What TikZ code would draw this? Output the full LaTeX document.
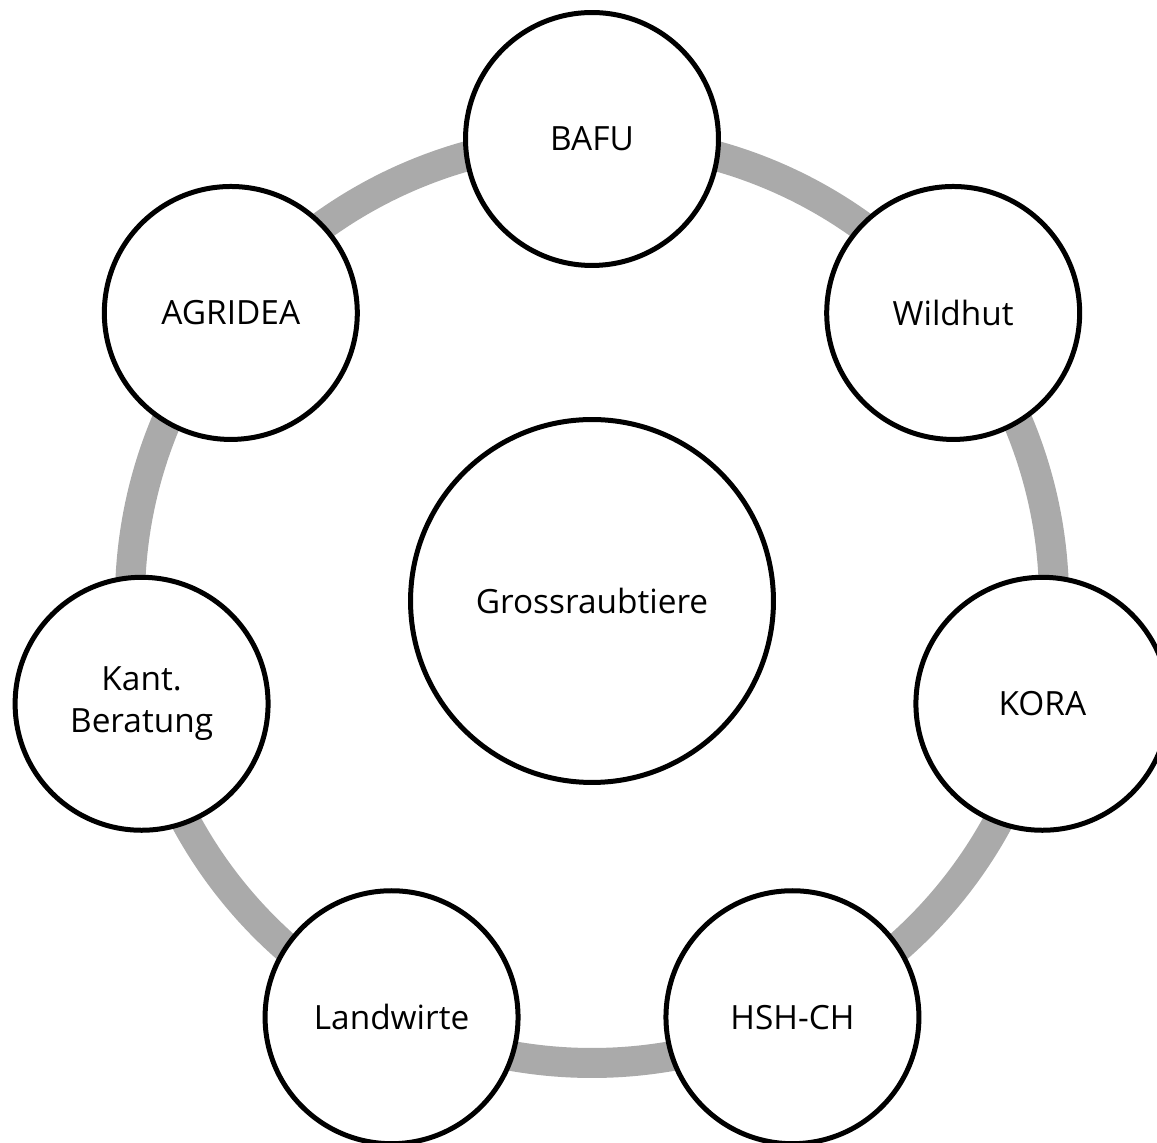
\documentclass[tikz,border=0pt]{standalone}
\usepackage{fontspec}
\setmainfont{Open Sans}
\usetikzlibrary{backgrounds}

\definecolor{ringgray}{RGB}{170,170,170}

\tikzset{
  actor/.style={circle, draw=black, line width=0.1cm, fill=white,
    minimum size=5.06cm, inner sep=0pt, align=center,
    font=\fontsize{19}{24}\selectfont},
  hub/.style={actor, minimum size=7.26cm},
  ring/.style={draw=ringgray, line width=0.6cm},
}

\begin{document}
\begin{tikzpicture}[x=0.02cm, y=0.02cm]
    \useasboundingbox (0,0) rectangle (1157,1143);
    \clip (0,0) rectangle (1157,1143);

    % Centre node
    \node[hub] (mid) at (592,542) {Grossraubtiere};

    % Actors around it
    \begin{scope}[shift={(592,542)}]
        \node[actor] (n1) at (90:462) {BAFU};
        \node[actor] (n2) at (38.571:462) {Wildhut};
        \node[actor] (n3) at (-12.857:462) {KORA};
        \node[actor] (n4) at (-64.286:462) {HSH-CH};
        \node[actor] (n5) at (-115.714:462) {Landwirte};
        \node[actor] (n6) at (-167.143:462) {Kant.\\Beratung};
        \node[actor] (n7) at (141.429:462) {AGRIDEA};
    \end{scope}

    % Ring
    \begin{scope}[on background layer]
        \draw[ring] (n1.center) to[bend left=25.7, looseness=0.9] (n2.center);
        \draw[ring] (n2.center) to[bend left=25.7, looseness=0.9] (n3.center);
        \draw[ring] (n3.center) to[bend left=25.7, looseness=0.9] (n4.center);
        \draw[ring] (n4.center) to[bend left=25.7, looseness=0.9] (n5.center);
        \draw[ring] (n5.center) to[bend left=25.7, looseness=0.9] (n6.center);
        \draw[ring] (n6.center) to[bend left=25.7, looseness=0.9] (n7.center);
        \draw[ring] (n7.center) to[bend left=25.7, looseness=0.9] (n1.center);
    \end{scope}

\end{tikzpicture}
\end{document}
